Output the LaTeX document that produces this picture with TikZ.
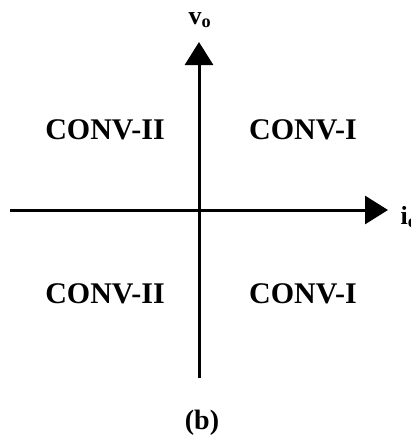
\documentclass[tikz,border=0pt]{standalone}
\usepackage{fontspec}
\setmainfont{Liberation Serif}
\usetikzlibrary{arrows.meta,positioning}

\begin{document}
\begin{tikzpicture}[x=1pt,y=-1pt,
   >={Triangle[length=23pt,width=28pt]},
   axis/.style={line width=3pt,->},
   every node/.style={font=\bfseries\fontsize{30}{34}\selectfont}]
  \useasboundingbox (0,0) rectangle (411,437);
  \coordinate (xl) at (10,210);
  \coordinate (xr) at (388,210);
  \coordinate (yb) at (199,378);
  \coordinate (yt) at (199,42);
  \draw[axis] (xl) -- (xr);
  \draw[axis] (yb) -- (yt);
  \node (vo) at (200,20) [font=\bfseries\fontsize{26}{30}\selectfont] {v\textsubscript{o}};
  \node (io) at (409,217) [font=\bfseries\fontsize{26}{30}\selectfont] {i\textsubscript{o}};
  \node (c2u) at (105,130) {CONV-II};
  \node (c1u) at (303,130) {CONV-I};
  \node (c2d) at (105,294) {CONV-II};
  \node (c1d) at (303,294) {CONV-I};
  \node (cap) at (202,423) [font=\bfseries\fontsize{28}{32}\selectfont] {(b)};
\end{tikzpicture}
\end{document}
